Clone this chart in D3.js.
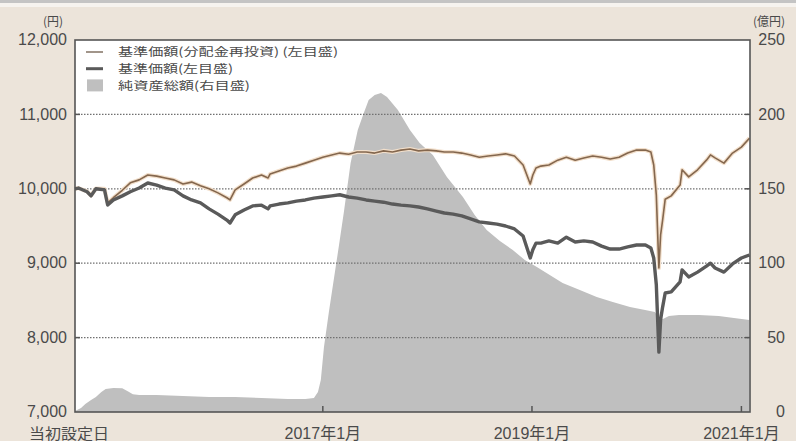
<!DOCTYPE html>
<html><head><meta charset="utf-8">
<script src="https://cdn.jsdelivr.net/npm/d3@7/dist/d3.min.js"></script>
<style>body{margin:0;background:#ece4da;} svg{display:block}</style>
</head><body><svg id="c" width="796" height="441"></svg>
<script>
// ---- data ----
const priceDates = ["2014-08-20","2014-09-01","2014-10-01","2014-10-15","2014-11-01","2014-12-01","2014-12-12","2015-01-01","2015-02-01","2015-03-01","2015-04-01","2015-05-01","2015-06-01","2015-07-01","2015-08-01","2015-09-01","2015-10-01","2015-11-01","2015-12-01","2016-01-01","2016-02-01","2016-02-12","2016-03-01","2016-04-01","2016-05-01","2016-06-01","2016-06-24","2016-07-01","2016-08-01","2016-09-01","2016-10-01","2016-11-01","2016-12-01","2017-01-01","2017-02-01","2017-03-01","2017-04-01","2017-05-01","2017-06-01","2017-07-01","2017-08-01","2017-09-01","2017-10-01","2017-11-01","2017-12-01","2018-01-01","2018-02-01","2018-03-01","2018-04-01","2018-05-01","2018-06-01","2018-07-01","2018-08-01","2018-09-01","2018-10-01","2018-11-01","2018-12-01","2018-12-26","2019-01-04","2019-01-15","2019-02-01","2019-03-01","2019-04-01","2019-05-01","2019-06-01","2019-07-01","2019-08-01","2019-09-01","2019-10-01","2019-11-01","2019-12-01","2020-01-01","2020-02-01","2020-02-20","2020-03-01","2020-03-10","2020-03-19","2020-03-25","2020-04-01","2020-04-10","2020-05-01","2020-06-01","2020-06-08","2020-07-01","2020-08-01","2020-09-01","2020-09-15","2020-10-01","2020-11-01","2020-12-01","2021-01-01","2021-01-29"];
const basePrice = [10000,10010,9960,9905,10000,9985,9782,9850,9905,9960,10010,10078,10050,10010,9985,9905,9850,9810,9730,9660,9580,9540,9650,9715,9770,9780,9730,9770,9795,9810,9835,9850,9875,9890,9905,9920,9890,9875,9850,9835,9820,9795,9780,9770,9755,9730,9700,9675,9660,9635,9595,9555,9540,9525,9500,9460,9365,9070,9180,9270,9270,9300,9270,9350,9285,9300,9285,9230,9190,9190,9220,9245,9245,9205,9070,8710,7805,8240,8410,8600,8615,8750,8910,8815,8880,8960,9000,8935,8880,8990,9070,9110];
const reinvestPrice = [10000,10010,9965,9910,10005,10000,9810,9880,9980,10080,10120,10185,10170,10145,10120,10065,10090,10040,10000,9945,9880,9850,9985,10065,10145,10185,10145,10200,10240,10280,10305,10345,10385,10425,10455,10480,10465,10495,10495,10480,10510,10495,10520,10535,10510,10520,10510,10495,10495,10480,10455,10425,10440,10455,10470,10440,10320,10065,10185,10280,10305,10320,10385,10425,10385,10415,10440,10425,10400,10425,10480,10520,10520,10495,10320,9915,8935,9380,9580,9860,9905,10050,10255,10160,10255,10385,10455,10415,10345,10480,10560,10680];
const assetDates = ["2014-08-20","2014-09-10","2014-09-25","2014-10-15","2014-11-01","2014-11-20","2014-12-05","2015-01-01","2015-02-01","2015-02-20","2015-03-10","2015-04-01","2015-06-01","2015-09-01","2015-12-01","2016-03-01","2016-06-01","2016-09-01","2016-11-01","2016-12-01","2016-12-15","2016-12-25","2017-01-05","2017-01-22","2017-02-08","2017-02-26","2017-03-15","2017-04-08","2017-05-03","2017-05-24","2017-06-10","2017-07-01","2017-07-23","2017-08-13","2017-09-20","2017-11-01","2017-12-05","2018-01-20","2018-03-10","2018-05-05","2018-06-15","2018-07-27","2018-09-11","2018-10-26","2018-12-07","2019-01-18","2019-03-04","2019-04-18","2019-06-17","2019-08-15","2019-10-10","2019-12-09","2020-01-31","2020-03-05","2020-03-19","2020-04-02","2020-04-23","2020-05-28","2020-08-06","2020-10-14","2020-12-06","2021-01-29"];
const netAssets = [0.7,2.7,5.4,8,10,13.4,15.5,16.1,16,14,12,11.4,11.4,10.8,10,10,9.4,8.7,8.7,9.4,13.4,21.5,43.7,67,88.7,111.5,133.7,167.3,189.5,200.9,209.7,213,214.4,211.7,203,189.5,180.8,172.7,157.9,144.5,132.4,122.3,114.9,108.9,102.1,97.4,92.1,86.7,82,77.3,73.9,70.6,68.5,67.2,63.2,62.5,64.5,65.2,65.2,64.5,63.2,61.8];
const leftTicks = [7000,8000,9000,10000,11000,12000];
const rightTicks = [0,50,100,150,200,250];
const gridValues = [8000,9000,10000,11000];
const xTickDates = ["2017-01-01","2019-01-01","2021-01-01"];
const xTickLabels = ["2017年1月","2019年1月","2021年1月"];
const startLabel = "当初設定日";
const leftUnit = "(円)", rightUnit = "(億円)";
const legendLabels = ["基準価額(分配金再投資) (左目盛)","基準価額(左目盛)","純資産総額(右目盛)"];

// ---- layout ----
const L = 75, R = 750, T = 40, B = 412;
const FONT = "'Noto Sans CJK JP','Noto Sans',sans-serif";
const NUMFONT = "'Liberation Sans','Noto Sans CJK JP',sans-serif";
const TXT = "#4a4a4a";
const parse = d3.timeParse("%Y-%m-%d");
const svg = d3.select("#c");

svg.append("rect").attr("x",0).attr("y",0).attr("width",796).attr("height",441).attr("fill","#ece4da");
svg.append("rect").attr("x",0).attr("y",0).attr("width",796).attr("height",3).attr("fill","#c4c4c4");
svg.append("rect").attr("x",0).attr("y",3).attr("width",796).attr("height",4).attr("fill","#f6f3ef");

const x = d3.scaleTime().domain([parse("2014-08-20"), parse("2021-01-31")]).range([L, R]);
const yL = d3.scaleLinear().domain([7000,12000]).range([B, T]);
const yR = d3.scaleLinear().domain([0,250]).range([B, T]);

svg.append("rect").attr("x",L).attr("y",T).attr("width",R-L).attr("height",B-T).attr("fill","#ffffff");

// area
const aData = assetDates.map((d,i)=>({d:parse(d), v:netAssets[i]}));
svg.append("path").datum(aData)
  .attr("d", d3.area().x(p=>x(p.d)).y0(yR(0)).y1(p=>yR(p.v)))
  .attr("fill","#bfbfbf");

// gridlines
const g = svg.append("g");
g.selectAll("line.grid").data(gridValues).join("line")
  .attr("x1",L).attr("x2",R).attr("y1",d=>yL(d)).attr("y2",d=>yL(d))
  .attr("stroke","#707070").attr("stroke-width",1.3).attr("stroke-dasharray","1.5,1.5");
g.selectAll("line.tl").data(gridValues).join("line")
  .attr("x1",L).attr("x2",L+5).attr("y1",d=>yL(d)).attr("y2",d=>yL(d))
  .attr("stroke","#555").attr("stroke-width",1.5);
g.selectAll("line.tr").data(gridValues).join("line")
  .attr("x1",R-5).attr("x2",R).attr("y1",d=>yL(d)).attr("y2",d=>yL(d))
  .attr("stroke","#555").attr("stroke-width",1.5);
// x ticks
g.selectAll("line.xt").data(xTickDates).join("line")
  .attr("x1",d=>x(parse(d))).attr("x2",d=>x(parse(d))).attr("y1",B).attr("y2",B-6)
  .attr("stroke","#555").attr("stroke-width",1.5);

// lines
const pData = priceDates.map((d,i)=>({d:parse(d), b:basePrice[i], r:reinvestPrice[i]}));
const lineR = d3.line().x(p=>x(p.d)).y(p=>yL(p.r));
const lineB = d3.line().x(p=>x(p.d)).y(p=>yL(p.b));
svg.append("path").datum(pData).attr("d",lineR).attr("fill","none").attr("stroke","#f2dfcb").attr("stroke-width",4).attr("stroke-linejoin","round");
svg.append("path").datum(pData).attr("d",lineR).attr("fill","none").attr("stroke","#84674e").attr("stroke-width",1.6).attr("stroke-linejoin","round");
svg.append("path").datum(pData).attr("d",lineB).attr("fill","none").attr("stroke","#5a5a5a").attr("stroke-width",3.4).attr("stroke-linejoin","round");

// frame
svg.append("rect").attr("x",L).attr("y",T).attr("width",R-L).attr("height",B-T)
  .attr("fill","none").attr("stroke","#555").attr("stroke-width",1.6);

// axis labels
svg.selectAll("text.yl").data(leftTicks).join("text")
  .attr("x",67).attr("y",d=>yL(d)).attr("dy","0.33em").attr("text-anchor","end")
  .attr("font-family",NUMFONT).attr("font-size","16px").attr("fill",TXT).text(d=>d3.format(",")(d));
svg.selectAll("text.yr").data(rightTicks).join("text")
  .attr("x",785).attr("y",d=>yR(d)).attr("dy","0.33em").attr("text-anchor","end")
  .attr("font-family",NUMFONT).attr("font-size","16px").attr("fill",TXT).text(d=>d);
svg.append("text").attr("x",53).attr("y",26).attr("text-anchor","middle")
  .attr("font-family",FONT).attr("font-size","12px").attr("fill",TXT).text(leftUnit);
svg.append("text").attr("x",785).attr("y",26).attr("text-anchor","end")
  .attr("font-family",FONT).attr("font-size","12px").attr("fill",TXT).text(rightUnit);
svg.selectAll("text.xl").data(xTickDates).join("text")
  .attr("x",d=>x(parse(d))).attr("y",438.5).attr("text-anchor","middle")
  .attr("font-family",NUMFONT).attr("font-size","16px").attr("fill",TXT).text((d,i)=>xTickLabels[i]);
svg.append("text").attr("x",69).attr("y",438.5).attr("text-anchor","middle")
  .attr("font-family",FONT).attr("font-size","14.5px").attr("fill",TXT)
  .attr("textLength",80).attr("lengthAdjust","spacingAndGlyphs").text(startLabel);

// legend
const lg = svg.append("g");
const rows = [52,68.7,85.4];
const legendWidths = [220,115,132];
lg.append("line").attr("x1",86).attr("x2",103).attr("y1",rows[0]).attr("y2",rows[0]).attr("stroke","#8a7a6c").attr("stroke-width",1.6);
lg.append("line").attr("x1",86).attr("x2",103).attr("y1",rows[1]).attr("y2",rows[1]).attr("stroke","#5a5a5a").attr("stroke-width",3);
lg.append("rect").attr("x",87).attr("y",rows[2]-6).attr("width",16).attr("height",12).attr("fill","#bfbfbf");
lg.selectAll("text").data(legendLabels).join("text")
  .attr("x",118).attr("y",(d,i)=>rows[i]).attr("dy","0.36em")
  .attr("font-family",FONT).attr("font-size","11.5px").attr("fill",TXT)
  .attr("textLength",(d,i)=>legendWidths[i]).attr("lengthAdjust","spacingAndGlyphs").text(d=>d);
</script></body></html>
